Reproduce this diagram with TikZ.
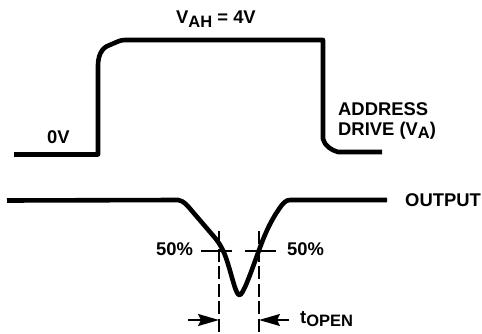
\documentclass[tikz,border=0pt]{standalone}
\usepackage{fontspec}
\setmainfont{Liberation Sans}
\usetikzlibrary{arrows.meta}
\tikzset{
 wave/.style={line width=4.6pt,line join=round,line cap=butt},
 guide/.style={line width=2pt},
 vdash/.style={line width=2pt,dash pattern=on 13pt off 4.5pt},
 dimarrow/.style={line width=2pt,-{Stealth[length=21pt,width=12pt,inset=3pt]}},
 lbl/.style={inner sep=0pt,font=\fontsize{18.4}{20}\selectfont\bfseries,text=black}
}
\newcommand{\subt}[1]{\raisebox{-3.2pt}{\fontsize{16.5}{18}\selectfont\bfseries #1}}
\begin{document}
\begin{tikzpicture}[x=1pt,y=-1pt]
\useasboundingbox (0,0) rectangle (482,334);
% address drive
\coordinate (a0) at (14,154.5);
\coordinate (a1) at (98,154.5);
\coordinate (a2) at (98,66);
\coordinate (a3) at (125,40);
\coordinate (a4) at (323,40);
\coordinate (a5) at (323,139);
\coordinate (a6) at (338,152);
\coordinate (a7) at (382,152);
\draw[wave] (a0) -- (a1) -- (a2) .. controls (98,50) and (106,46) .. (111,44.5) .. controls (117,42) and (120,40) .. (a3) -- (a4) -- (a5) .. controls (325,146) and (331,150) .. (a6) -- (a7);
% output
\coordinate (o0) at (7,200.5);
\coordinate (o1) at (178,200);
\coordinate (o2) at (290,200);
\coordinate (o3) at (387,200);
\coordinate (ob) at (239.5,295);
\draw[wave] (o0) -- (o1) .. controls (184,201) and (187,205) .. (192,211)
  -- (216,239) .. controls (222,247) and (225,254) .. (228,264)
  .. controls (233,280) and (236,295) .. (ob)
  .. controls (243,295) and (250,275) .. (258,253)
  .. controls (264,236) and (270,222) .. (279,209)
  .. controls (283,203) and (286,200) .. (o2) -- (o3);
% guides
\coordinate (g1a) at (201,251);
\coordinate (g1b) at (232,251);
\coordinate (g2a) at (245,251);
\coordinate (g2b) at (276,251);
\draw[guide] (g1a) -- (g1b);
\draw[guide] (g2a) -- (g2b);
\coordinate (d1a) at (219,231);
\coordinate (d1b) at (219,334);
\coordinate (d2a) at (259,231);
\coordinate (d2b) at (259,334);
\draw[vdash] (d1a) -- (d1b);
\draw[vdash] (d2a) -- (d2b);
% arrows
\coordinate (ar1) at (188,320);
\coordinate (ar2) at (219,320);
\coordinate (ar3) at (289,320);
\coordinate (ar4) at (259,320);
\draw[dimarrow] (ar1) -- (ar2);
\draw[dimarrow] (ar3) -- (ar4);
% labels
\node[lbl,anchor=base west] (vah) at (176,24) {V\subt{AH} = 4V};
\node[lbl,anchor=base west] (zero) at (47,143) {0V};
\node[lbl,anchor=base west] (addr) at (338,115.5) {ADDRESS};
\node[lbl,anchor=base west] (drive) at (338,135.5) {DRIVE (V\subt{A})};
\node[lbl,anchor=base west] (out) at (405,206) {OUTPUT};
\node[lbl,anchor=base west] (p1) at (156,255.5) {50\%};
\node[lbl,anchor=base west] (p2) at (287,255.5) {50\%};
\node[lbl,anchor=base west] (topen) at (300,323) {t\subt{OPEN}};
\end{tikzpicture}
\end{document}
